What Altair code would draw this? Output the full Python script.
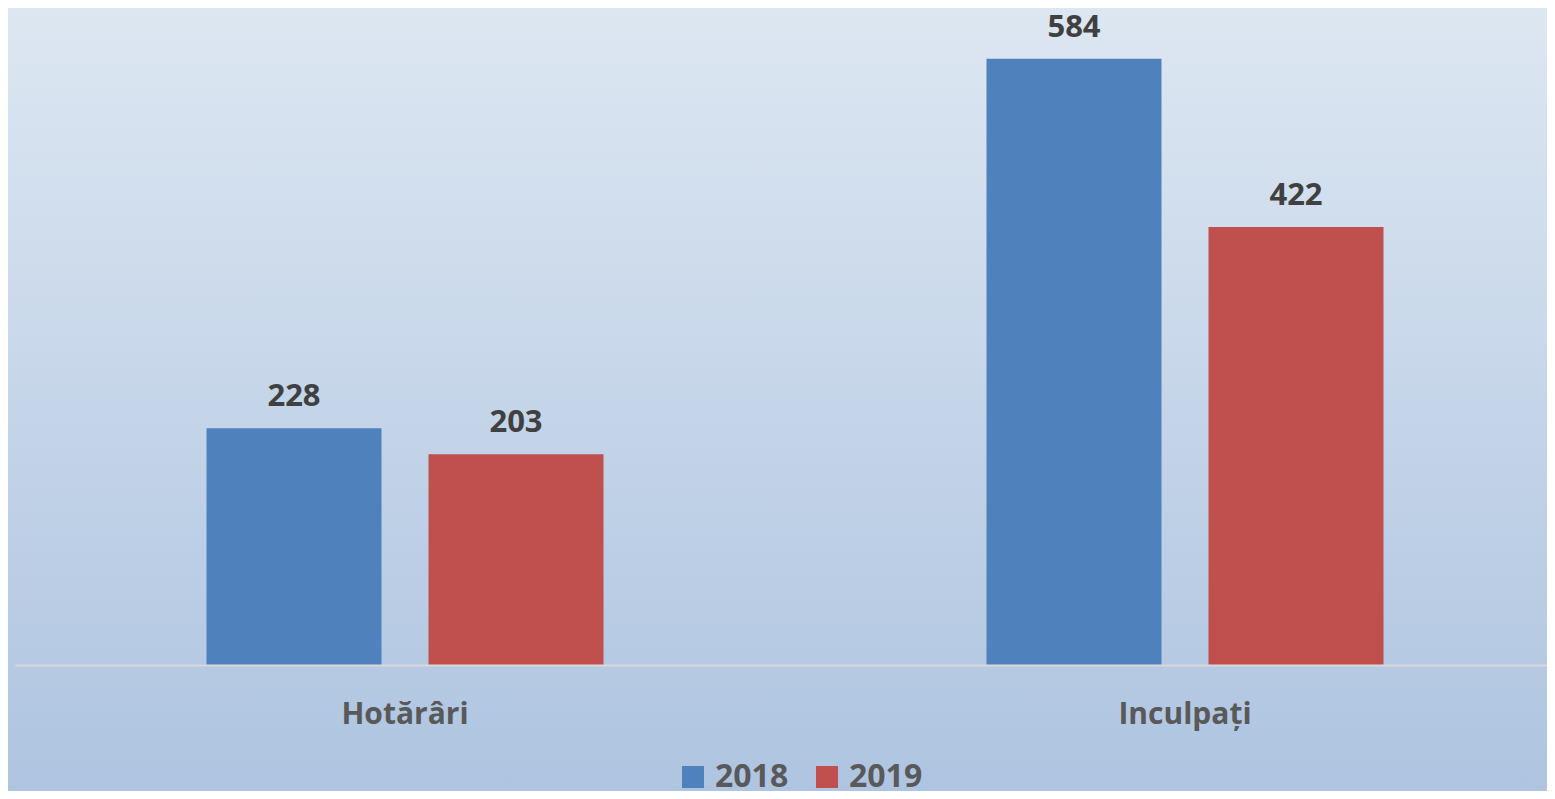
import altair as alt
import pandas as pd

categories = ["Hotărâri", "Inculpați"]
years = ["2018", "2019"]
values_2018 = [228, 584]
values_2019 = [203, 422]
colors = ["#4f81bd", "#c0504d"]

rows = []
for i, c in enumerate(categories):
    rows.append({"categorie": c, "an": years[0], "valoare": values_2018[i]})
    rows.append({"categorie": c, "an": years[1], "valoare": values_2019[i]})
df = pd.DataFrame(rows)

FONT = "Open Sans"
W, H = 1532, 657
PAD = {"left": 7, "top": 0, "right": 0, "bottom": 126}

gradient = alt.LinearGradient(
    gradient="linear",
    stops=[alt.GradientStop(color="#dde7f2", offset=0),
           alt.GradientStop(color="#aec4e0", offset=1)],
    x1=0, x2=0, y1=0, y2=1,
)

bg = alt.Chart(pd.DataFrame({"k": [0]})).mark_rect(fill=gradient, strokeWidth=0).encode(
    x=alt.value(-7), x2=alt.value(W), y=alt.value(0), y2=alt.value(H + 126)
)

x_enc = alt.X(
    "categorie:N", sort=categories, title=None,
    scale=alt.Scale(range=[0, 1560], paddingInner=0, paddingOuter=0),
    axis=alt.Axis(
        labelAngle=0, ticks=False, domain=True, domainColor="#d9d9d9", domainWidth=2,
        labelFont=FONT, labelFontSize=30, labelFontWeight="bold", labelColor="#595959",
        labelPadding=34, grid=False, zindex=1,
    ),
)
xoff = alt.XOffset("an:N", sort=years, scale=alt.Scale(paddingInner=0.2117, paddingOuter=0.8626))
y_enc = alt.Y("valoare:Q", scale=alt.Scale(domain=[0, 633], nice=False), axis=None)

base = alt.Chart(df).encode(x=x_enc, xOffset=xoff, y=y_enc)

bars = base.mark_bar().encode(
    color=alt.Color(
        "an:N", sort=years,
        scale=alt.Scale(domain=years, range=colors),
        legend=alt.Legend(
            title=None, orient="none", legendX=662, legendY=753, direction="horizontal",
            symbolType="square", symbolSize=484, symbolStrokeWidth=0,
            labelFont=FONT, labelFontSize=32, labelFontWeight="bold", labelColor="#595959",
            labelOffset=6, columnPadding=22, padding=0, zindex=1,
        ),
    )
)

labels = base.mark_text(
    font=FONT, fontSize=31, fontWeight="bold", color="#404040",
    baseline="alphabetic", dy=-22,
).encode(text=alt.Text("valoare:Q"))

chart = alt.layer(bg, bars, labels).properties(
    width=W, height=H,
    padding=PAD,
    autosize=alt.AutoSizeParams(type="none"),
    background="#c4d4ea",
).configure_view(stroke=None)

chart.save("out.html", embed_options={"renderer": "svg", "actions": False})
